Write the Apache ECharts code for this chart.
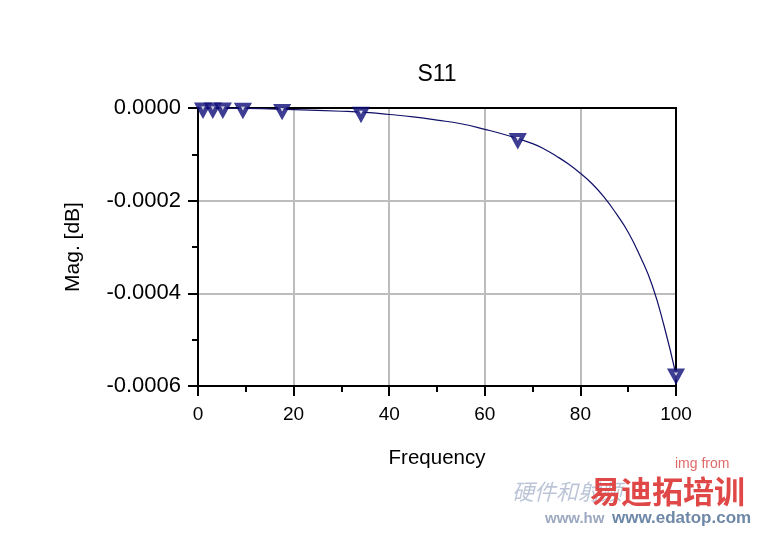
<!DOCTYPE html>
<html>
<head>
<meta charset="utf-8">
<script src="https://cdn.jsdelivr.net/npm/echarts@6/dist/echarts.min.js"></script>
<style>html,body{margin:0;padding:0;background:#fff}#c{width:758px;height:535px}</style>
</head>
<body>
<div id="c"></div>
<script>
var chartTitle = 'S11';
var xName = 'Frequency';
var yName = 'Mag. [dB]';
// curve samples (frequency, dB)
var curveFreq = [0, 10, 20, 30, 35, 40, 45, 50, 55, 60, 65, 70, 72.5, 75, 77.5, 80, 82.5, 85, 87.5, 90, 92.5, 95, 97.5, 100];
var curveMag = [0, -0.000001, -0.0000037, -0.000007, -0.0000095, -0.000014, -0.000019, -0.000026, -0.000034, -0.000046, -0.00006, -0.000077, -0.000089, -0.000104, -0.000121, -0.000141, -0.000164, -0.000193, -0.000228, -0.000268, -0.00032, -0.000382, -0.00047, -0.000576];
// marker points
var markerFreq = [1.05, 3.1, 5.2, 9.4, 17.6, 34.1, 66.9, 100];
var markerMag = [0, 0, 0, -0.0000008, -0.000003, -0.000009, -0.000066, -0.000574];

var curve = curveFreq.map(function (f, i) { return [f, curveMag[i]]; });
var marks = markerFreq.map(function (f, i) { return [f, markerMag[i]]; });

var chart = echarts.init(document.getElementById('c'));
var font = 'Liberation Sans, Arial, sans-serif';
chart.setOption({
  backgroundColor: '#fff',
  animation: false,
  grid: { left: 198, top: 108, width: 478, height: 278, show: true, borderColor: '#000', borderWidth: 2, backgroundColor: 'transparent', z: 3 },
  xAxis: {
    type: 'value', min: 0, max: 100, interval: 20,
    name: xName, nameLocation: 'middle', nameGap: 62,
    nameTextStyle: { fontFamily: font, fontSize: 20.5, color: '#000' },
    axisLine: { onZero: false, lineStyle: { color: '#000', width: 2 } },
    axisTick: { show: true, length: 10, lineStyle: { color: '#000', width: 2 } },
    minorTick: { show: true, splitNumber: 2, length: 6, lineStyle: { color: '#000', width: 2 } },
    axisLabel: { fontFamily: font, fontSize: 19, color: '#000', margin: 19 },
    splitLine: { show: true, showMinLine: false, showMaxLine: false, lineStyle: { color: '#bdbdbd', width: 2 } }
  },
  yAxis: {
    type: 'value', min: -0.0006, max: 0, interval: 0.0002,
    name: yName, nameLocation: 'middle', nameGap: 114, nameRotate: 90,
    nameTextStyle: { fontFamily: font, fontSize: 21, color: '#000' },
    axisLine: { onZero: false, lineStyle: { color: '#000', width: 2 } },
    axisTick: { show: true, length: 10, lineStyle: { color: '#000', width: 2 } },
    minorTick: { show: true, splitNumber: 2, length: 6, lineStyle: { color: '#000', width: 2 } },
    axisLabel: {
      fontFamily: font, fontSize: 22, color: '#000', margin: 17,
      formatter: function (v) { return Math.abs(v) < 1e-12 ? '0.0000' : v.toFixed(4); }
    },
    splitLine: { show: true, showMinLine: false, showMaxLine: false, lineStyle: { color: '#bdbdbd', width: 2 } }
  },
  series: [
    {
      type: 'line', data: curve, smooth: 0.5, showSymbol: false, clip: false,
      lineStyle: { color: '#101068', width: 1.2 }, z: 4
    },
    {
      type: 'scatter', data: marks, symbol: 'triangle', symbolRotate: 180, symbolSize: [11, 10], symbolOffset: [0, 1.5], clip: false,
      itemStyle: { color: '#ffffff', borderColor: '#0c0c78', borderWidth: 4.2 }, z: 6
    }
  ],
  graphic: [
    { type: 'text', x: 437, y: 75, style: { text: chartTitle, fill: '#000', font: '23px ' + font, align: 'center', verticalAlign: 'middle' } },
    { type: 'text', left: 675, top: 457, style: { text: 'img from', fill: '#e06a6a', font: '14px ' + font } },
    { type: 'text', left: 512, top: 481, style: { text: '硬件和射频', fill: 'rgba(60,90,140,0.35)', font: 'italic 22px "Noto Sans CJK SC"' } },
    { type: 'text', left: 590, top: 476, style: { text: '易迪拓培训', fill: '#e04848', font: 'bold 31px "Noto Sans CJK SC"' } },
    { type: 'text', left: 545, top: 511, style: { text: 'www.hw', fill: 'rgba(90,110,150,0.6)', font: 'bold 15px ' + font } },
    { type: 'text', left: 612, top: 510, style: { text: 'www.edatop.com', fill: '#6e88a8', font: 'bold 17px ' + font } }
  ]
});
</script>
</body>
</html>
